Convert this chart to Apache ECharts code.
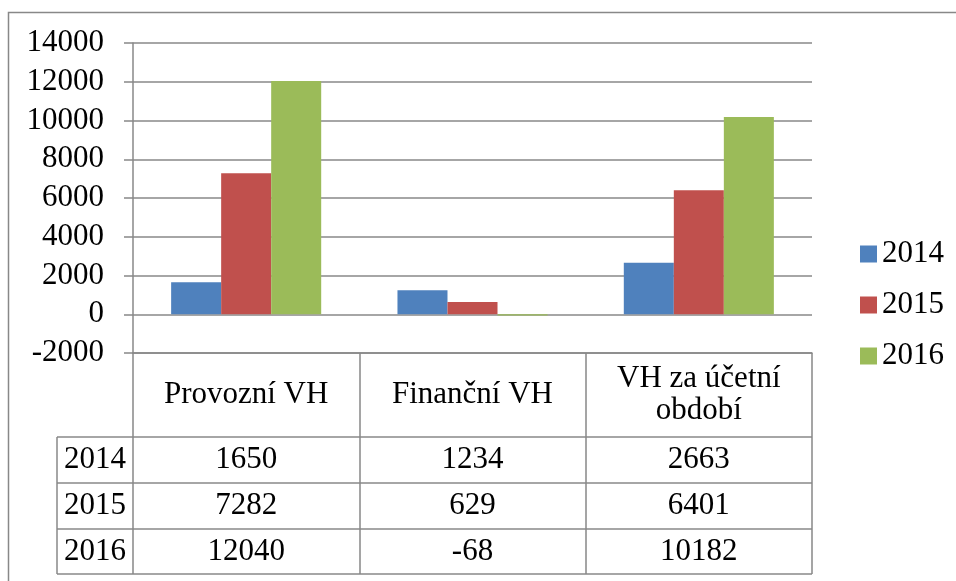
<!DOCTYPE html>
<html><head><meta charset="utf-8">
<script src="https://cdn.jsdelivr.net/npm/echarts@6/dist/echarts.min.js"></script>
<style>html,body{margin:0;padding:0;background:#fff;font-family:'Liberation Serif',serif}
#wrap{position:relative;width:956px;height:581px}
#c{position:absolute;left:0;top:0;width:956px;height:581px}
#pre{position:absolute;left:300px;top:200px;color:#fff;font-size:2px;font-family:'Liberation Serif'}</style>
</head><body><div id="wrap"><span id="pre" aria-hidden="true">0</span><div id="c"></div></div>
<script>
// ---- data ----
const categories = ['Provozní VH', 'Finanční VH', 'VH za účetní období'];
const seriesNames = ['2014', '2015', '2016'];
const values2014 = [1650, 1234, 2663];
const values2015 = [7282, 629, 6401];
const values2016 = [12040, -68, 10182];
const yMin = -2000, yMax = 14000, yStep = 2000;

// ---- styles / layout ----
const FONT = 'Liberation Serif';
const FS = 31;
const GRID = '#888888';
const colors = ['#4F81BD', '#C0504D', '#9BBB59'];
const L = 133, R = 812, T = 43, B = 353;
const rowLines = [437, 483, 529, 574];
const yearColLeft = 57;

const allSeries = [values2014, values2015, values2016];
let chart = null;

function render() {
  if (chart) chart.dispose();
  chart = echarts.init(document.getElementById('c'));
  const option = {
    animation: false,
    color: colors,
    textStyle: { fontFamily: FONT },
    grid: { left: L, right: 956 - R, top: T, bottom: 581 - B, containLabel: false },
    legend: {
      orient: 'vertical', left: 855, top: 232,
      itemWidth: 17, itemHeight: 17, itemGap: 17,
      icon: 'rect',
      textStyle: { fontFamily: FONT, fontSize: FS, color: '#000', lineHeight: 34 },
      data: seriesNames
    },
    xAxis: {
      type: 'category', data: categories,
      axisLine: { show: true, onZero: false, lineStyle: { color: GRID, width: 1.5 } },
      axisTick: { show: true, length: 574 - B, lineStyle: { color: GRID, width: 1.5 } },
      axisLabel: {
        fontFamily: FONT, fontSize: FS, color: '#000', margin: 42,
        verticalAlign: 'middle', lineHeight: 32, interval: 0,
        formatter: s => (s.length > 14 ? s.replace(/ (\S+)$/, '\n$1') : s)
      }
    },
    yAxis: {
      type: 'value', min: yMin, max: yMax, interval: yStep,
      axisLine: { show: true, lineStyle: { color: GRID, width: 1.5 } },
      axisTick: { show: true, length: 9, lineStyle: { color: GRID, width: 1.5 } },
      splitLine: { show: true, lineStyle: { color: GRID, width: 1.5 } },
      axisLabel: { fontFamily: FONT, fontSize: FS, color: '#000', margin: 29,
        formatter: v => String(v) }
    },
    series: allSeries.map((vals, i) => ({
      name: seriesNames[i], type: 'bar', data: vals,
      barGap: '0%', barCategoryGap: '33.7%'
    }))
  };
  chart.setOption(option);

  const g = [];
  const line = (x1, y1, x2, y2) => ({ type: 'line', silent: true,
    shape: { x1, y1, x2, y2 }, style: { stroke: GRID, lineWidth: 1.5 } });
  g.push({ type: 'polyline', silent: true, shape: { points: [[8.5, 581], [8.5, 12.5], [956, 12.5]] },
    style: { stroke: GRID, lineWidth: 1.5, fill: null } });
  rowLines.forEach(y => g.push(line(yearColLeft, y, R, y)));
  g.push(line(yearColLeft, rowLines[0], yearColLeft, rowLines[rowLines.length - 1]));
  seriesNames.forEach((name, r) => {
    const cy = (rowLines[r] + rowLines[r + 1]) / 2;
    g.push({ type: 'text', silent: true, x: (yearColLeft + L) / 2, y: cy,
      style: { text: name, fontFamily: FONT, fontSize: FS, fill: '#000', align: 'center', verticalAlign: 'middle' } });
    categories.forEach((c, ci) => {
      const cx = chart.convertToPixel({ xAxisIndex: 0 }, ci);
      g.push({ type: 'text', silent: true, x: cx, y: cy,
        style: { text: String(allSeries[r][ci]), fontFamily: FONT, fontSize: FS, fill: '#000', align: 'center', verticalAlign: 'middle' } });
    });
  });
  chart.setOption({ graphic: { elements: g } });
}

render();
if (document.fonts && document.fonts.ready) {
  document.fonts.ready.then(() => render());
}
setTimeout(render, 150);
</script></body></html>
